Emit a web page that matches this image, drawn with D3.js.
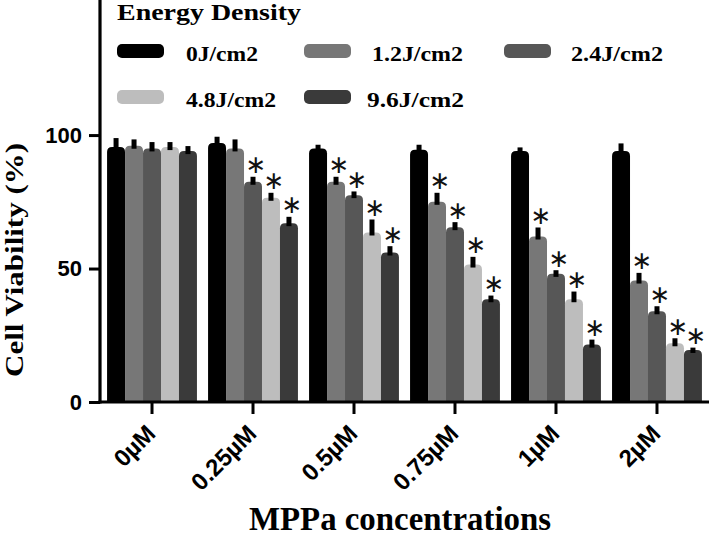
<!DOCTYPE html>
<html>
<head>
<meta charset="utf-8">
<script src="https://cdn.jsdelivr.net/npm/d3@7"></script>
<style>
  html, body { margin: 0; padding: 0; background: #fff; }
  svg { display: block; }
</style>
</head>
<body>
<svg id="chart" width="709" height="545"></svg>
<script>
// ---------------- data ----------------
const categories = ["0µM", "0.25µM", "0.5µM", "0.75µM", "1µM", "2µM"];
const seriesNames = ["0J/cm2", "1.2J/cm2", "2.4J/cm2", "4.8J/cm2", "9.6J/cm2"];
const seriesColors = ["#000000", "#777777", "#575757", "#bdbdbd", "#3a3a3a"];

// mean cell viability (%) per energy density, across categories
const v0  = [95.5, 97, 95, 94.5, 94, 94];
const v12 = [96, 95, 82.5, 75, 62, 45.5];
const v24 = [95, 82.5, 77.5, 65.5, 48, 34];
const v48 = [95.5, 76.5, 63.5, 51.5, 38.5, 22];
const v96 = [94, 67, 56, 38.5, 21.5, 19.5];

// error (SD)
const e0  = [3, 2, 1, 1.5, 1, 2.5];
const e12 = [2, 3, 1.5, 3, 3, 2.5];
const e24 = [2, 1.5, 1, 1.5, 1, 1.5];
const e48 = [1.5, 1.5, 4.5, 2.5, 2.5, 1.5];
const e96 = [1.5, 2, 2, 1, 1.5, 0.5];

// significance markers
const s0  = [0, 0, 0, 0, 0, 0];
const s12 = [0, 0, 1, 1, 1, 1];
const s24 = [0, 1, 1, 1, 1, 1];
const s48 = [0, 1, 1, 1, 1, 1];
const s96 = [0, 1, 1, 1, 1, 1];

const yTicks = [0, 50, 100];

const values = [v0, v12, v24, v48, v96];
const errors = [e0, e12, e24, e48, e96];
const sigs = [s0, s12, s24, s48, s96];

// ---------------- layout ----------------
const svg = d3.select("#chart");
const axisX = 100, baseY = 402;
const serif = "Liberation Serif, Times New Roman, serif";
const sans = "Liberation Sans, Arial, sans-serif";

const x0 = d3.scaleBand().domain(categories).range([axisX, 709])
  .paddingInner(0.11).paddingOuter(0.07);
const x1 = d3.scaleBand().domain(seriesNames).range([0, x0.bandwidth()]).padding(0);
const y = d3.scaleLinear().domain([0, 150.6]).range([baseY, 0]);

function topRounded(x, yy, w, h, r) {
  r = Math.min(r, w / 2, h);
  return `M${x},${yy + h}V${yy + r}Q${x},${yy} ${x + r},${yy}H${x + w - r}Q${x + w},${yy} ${x + w},${yy + r}V${yy + h}Z`;
}

const records = [];
categories.forEach((c, ci) => {
  seriesNames.forEach((s, si) => {
    records.push({ cat: c, ser: s, si, v: values[si][ci], e: errors[si][ci], sig: sigs[si][ci] });
  });
});

const g = svg.append("g");
const bw = x1.bandwidth();

// bars
g.selectAll("path.bar").data(records).join("path")
  .attr("class", "bar")
  .attr("fill", d => seriesColors[d.si])
  .attr("d", d => {
    const bx = x0(d.cat) + x1(d.ser);
    const top = y(d.v);
    return topRounded(bx, top, bw, baseY - top, 5);
  });

// error bars
g.selectAll("rect.err").data(records).join("rect")
  .attr("class", "err")
  .attr("fill", "#000")
  .attr("x", d => x0(d.cat) + x1(d.ser) + bw / 2 - 2.5)
  .attr("width", 5)
  .attr("y", d => y(d.v + d.e) - 1)
  .attr("height", d => y(d.v) - y(d.v + d.e) + 4);

// asterisks
g.selectAll("text.sig").data(records.filter(d => d.sig)).join("text")
  .attr("class", "sig")
  .attr("x", d => x0(d.cat) + x1(d.ser) + bw / 2 + 3)
  .attr("y", d => y(d.v + d.e) - 13)
  .attr("text-anchor", "middle")
  .attr("dominant-baseline", "central")
  .attr("font-family", "DejaVu Sans")
  .attr("font-size", 25)
  .attr("fill", "#111")
  .text("∗");

// axes
const yAxis = d3.axisLeft(y).tickValues(yTicks).tickSize(11).tickPadding(7).tickFormat(d3.format("d"));
const yg = svg.append("g").attr("transform", `translate(${axisX},0)`).call(yAxis);
yg.select(".domain").remove();
yg.selectAll(".tick line").attr("stroke", "#000").attr("stroke-width", 3);
yg.selectAll(".tick text")
  .attr("font-family", sans)
  .attr("font-weight", "bold").attr("font-size", 22).attr("fill", "#000");
svg.append("line").attr("x1", axisX).attr("x2", axisX).attr("y1", 0).attr("y2", baseY + 1.5)
  .attr("stroke", "#000").attr("stroke-width", 3.2);

const xAxis = d3.axisBottom(x0).tickSize(12).tickSizeOuter(0);
const xg = svg.append("g").attr("transform", `translate(0,${baseY})`).call(xAxis);
xg.select(".domain").remove();
xg.selectAll(".tick line").attr("stroke", "#000").attr("stroke-width", 3);
xg.selectAll(".tick text")
  .attr("font-family", sans)
  .attr("font-weight", "bold").attr("font-size", 24).attr("fill", "#000")
  .attr("text-anchor", "end")
  .attr("dy", null)
  .attr("y", null)
  .attr("transform", "translate(5,33) rotate(-45)");
svg.append("line").attr("x1", axisX - 1.5).attr("x2", 709).attr("y1", baseY).attr("y2", baseY)
  .attr("stroke", "#000").attr("stroke-width", 3.2);

// axis titles
svg.append("text")
  .attr("transform", "translate(23,260) rotate(-90)")
  .attr("text-anchor", "middle")
  .attr("font-family", serif)
  .attr("font-weight", "bold").attr("font-size", 25)
  .attr("textLength", 234).attr("lengthAdjust", "spacingAndGlyphs")
  .text("Cell Viability (%)");

svg.append("text")
  .attr("x", 400).attr("y", 530)
  .attr("text-anchor", "middle")
  .attr("font-family", serif)
  .attr("font-weight", "bold").attr("font-size", 33)
  .attr("textLength", 302).attr("lengthAdjust", "spacingAndGlyphs")
  .text("MPPa concentrations");

// legend
const leg = svg.append("g");
leg.append("text")
  .attr("x", 117).attr("y", 20)
  .attr("font-family", serif)
  .attr("font-weight", "bold").attr("font-size", 24)
  .attr("textLength", 184).attr("lengthAdjust", "spacingAndGlyphs")
  .text("Energy Density");

const legCols = [117, 304, 504];
const legRows = [51, 97];
const legPos = [[0, 0], [1, 0], [2, 0], [0, 1], [1, 1]];
const legLabelDx = [69, 68, 67, 69, 63];
const legLabelW = [72, 91, 92, 90, 97];
const items = leg.selectAll("g.item").data(seriesNames).join("g").attr("class", "item")
  .attr("transform", (d, i) => `translate(${legCols[legPos[i][0]]},${legRows[legPos[i][1]]})`);
items.append("rect")
  .attr("x", 0).attr("y", -7).attr("width", 47).attr("height", 14).attr("rx", 5)
  .attr("fill", (d, i) => seriesColors[i]);
items.append("text")
  .attr("x", (d, i) => legLabelDx[i]).attr("y", 9.5)
  .attr("font-family", serif)
  .attr("font-weight", "bold").attr("font-size", 21)
  .attr("textLength", (d, i) => legLabelW[i]).attr("lengthAdjust", "spacingAndGlyphs")
  .text(d => d);
</script>
</body>
</html>
